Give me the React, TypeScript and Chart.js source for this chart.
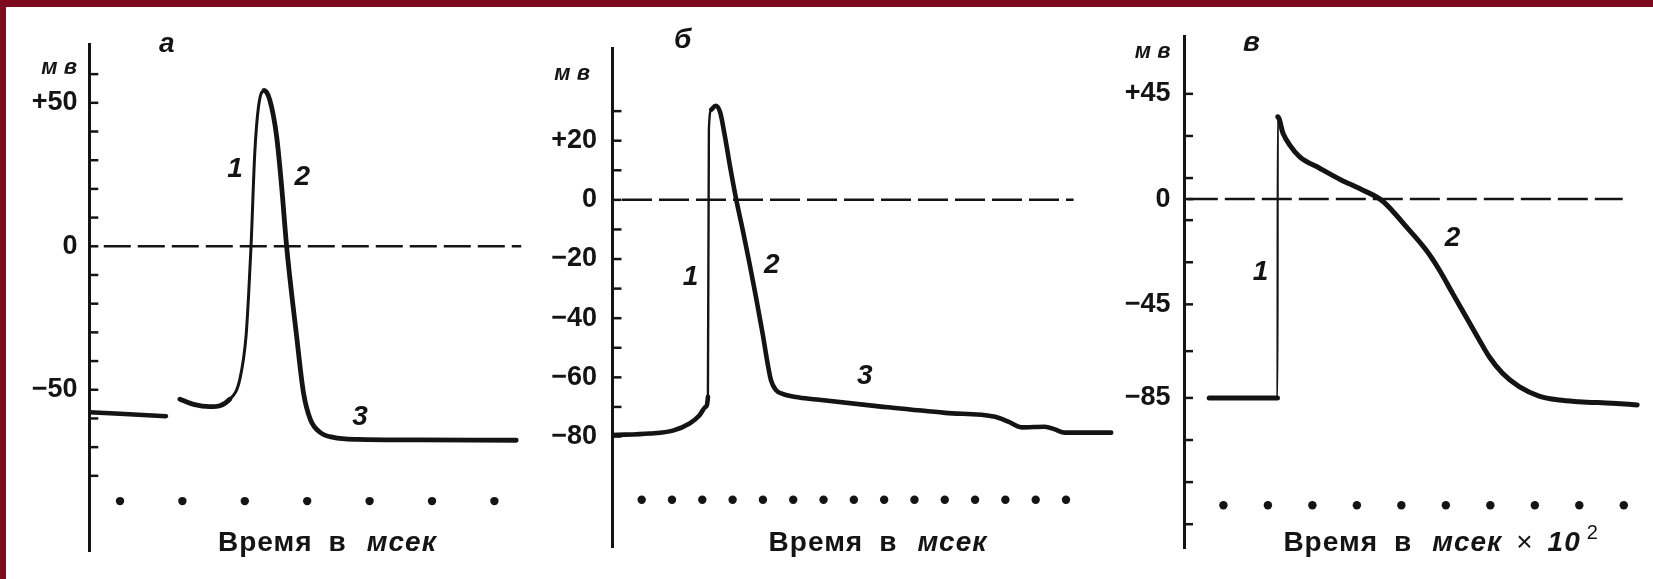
import { useEffect, useRef } from 'react';
import { Chart, registerables } from 'chart.js';

Chart.register(...registerables);

const INK = '#141414';
const FRAME = '#7e0a20';
const FONT = '"Liberation Sans", Arial, sans-serif';

// ---------- а : nerve fibre ----------
const aRestT = [0.508, 1.737];
const aRestMv = [-57.8, -59.2];
const aSpikeT = [1.96, 2.18, 2.44, 2.76, 2.92, 3.02, 3.06, 3.1, 3.16, 3.22, 3.31, 3.4, 3.51, 3.59, 3.67, 3.83, 3.94, 4.05, 4.21, 4.42, 4.8, 5.8, 7.35];
const aSpikeMv = [-53.3, -55.1, -55.9, -53.3, -46.4, -31.3, -17.4, 0, 32.5, 48.7, 54.3, 51, 38.3, 20.9, 0, -31.3, -51, -60.3, -64.9, -66.6, -67.3, -67.5, -67.6];
const aMarkT = [1, 2, 3, 4, 5, 6, 7];
const aTickMv = [60, 50, 40, 30, 20, 10, 0, -10, -20, -30, -40, -50, -60, -70, -80];
const aLabelMv = [50, 0, -50];
const aLabelText = ['+50', '0', '−50'];
const aTagText = ['1', '2', '3'];
const aTagT = [2.843, 3.923, 4.846];
const aTagMv = [26.7, 24.0, -59.6];

// ---------- б : skeletal muscle fibre ----------
const bT = [0.04, 1.27, 2.03, 2.58, 2.91, 3.11, 3.185, 3.217, 3.296, 3.438, 3.592, 3.733, 3.93, 4.118, 4.334, 4.554, 4.775, 4.992, 5.156, 5.267, 5.431, 5.649, 6.197, 6.854, 8.825, 11.016, 12.659, 13.096, 13.533, 14.302, 14.63, 14.959, 16.49];
const bMv = [-79.5, -79, -78, -75.6, -72.8, -70, -66.6, 23.8, 30.5, 31.8, 29.5, 22.2, 10.5, 0.2, -10.2, -21.3, -33.1, -45.3, -55.4, -61, -64.3, -65.6, -66.8, -67.6, -69.8, -72, -73.3, -75, -76.9, -76.7, -77.6, -78.7, -78.7];
const bMarkT = [1, 2, 3, 4, 5, 6, 7, 8, 9, 10, 11, 12, 13, 14, 15];
const bTickMv = [30, 20, 10, 0, -10, -20, -30, -40, -50, -60, -70, -80];
const bLabelMv = [20, 0, -20, -40, -60, -80];
const bLabelText = ['+20', '0', '−20', '−40', '−60', '−80'];
const bTagText = ['1', '2', '3'];
const bTagT = [2.61, 5.294, 8.359];
const bTagMv = [-26.1, -22.2, -59.8];

// ---------- в : cardiac muscle fibre ----------
const vT = [0.68, 2.215, 2.222, 2.341, 2.491, 2.715, 3.164, 3.646, 4.094, 4.583, 5.108, 5.556, 5.854, 6.152, 6.453, 6.751, 6.975, 7.274, 7.648, 8.096, 8.545, 8.993, 9.74, 10.3];
const vMv = [-85, -85, 35.2, 28.1, 23.1, 18.1, 13.2, 8.2, 4.2, -0.9, -11.8, -21.8, -30.3, -40.3, -50.3, -60.2, -67.4, -74.5, -80.2, -84.2, -85.9, -86.6, -87.3, -88.0];
const vMarkT = [1, 2, 3, 4, 5, 6, 7, 8, 9, 10];
const vTickMv = [45, 27, 9, 0, -9, -27, -45, -65, -85, -103, -121, -139];
const vLabelMv = [45, 0, -45, -85];
const vLabelText = ['+45', '0', '−45', '−85'];
const vTagText = ['1', '2'];
const vTagT = [1.836, 6.153];
const vTagMv = [-31.4, -16.8];

type Part = { text: string; font: string; gap: number; rise?: number };

const UPRIGHT = `bold 28px ${FONT}`;
const SLANTED = `italic bold 28px ${FONT}`;
const timeTitle: Part[] = [
  { text: 'Время', font: UPRIGHT, gap: 0 },
  { text: 'в', font: UPRIGHT, gap: 16 },
  { text: 'мсек', font: SLANTED, gap: 20 },
];
const timeTitleX100: Part[] = [
  ...timeTitle,
  { text: '×', font: `28px ${FONT}`, gap: 14 },
  { text: '10', font: SLANTED, gap: 14 },
  { text: '2', font: `20px ${FONT}`, gap: 6, rise: 12 },
];

const zip = (xs: number[], ys: number[]) => xs.map((x, i) => ({ x, y: ys[i] }));

const PANELS = [
  {
    canvas: { left: 6, top: 7, width: 534, height: 572 },
    plot: { left: 89.3, right: 530, top: 44.3, bottom: 552 },
    axisW: 75,
    labelPad: 11.8,
    x: [0.508, 7.5705],
    y: [-106.2, 70.4],
    traces: [
      { t: aRestT, mv: aRestMv, thin: 3, thick: 4.5 },
      { t: aSpikeT, mv: aSpikeMv, thin: 3, thick: 4.8 },
    ],
    marks: aMarkT,
    markLevel: -88.8,
    zero: [0.74, 7.43],
    dash: [27, 7],
    ticks: aTickMv,
    labelMv: aLabelMv,
    labelText: aLabelText,
    tags: { text: aTagText, t: aTagT, mv: aTagMv },
    letter: 'а',
    letterPos: [159, 44],
    unitPos: [77, 68.3],
    title: timeTitle,
    titlePos: [218, 550.5],
  },
  {
    canvas: { left: 540, top: 7, width: 580, height: 572 },
    plot: { left: 612.5, right: 1118, top: 48, bottom: 552 },
    axisW: 65,
    labelPad: 15.5,
    x: [0.037, 16.643],
    y: [-117.45, 51.34],
    traces: [{ t: bT, mv: bMv, thin: 2.4, thick: 4.6 }],
    marks: bMarkT,
    markLevel: -101.4,
    zero: [0.35, 15.25],
    dash: [30, 7],
    ticks: bTickMv,
    labelMv: bLabelMv,
    labelText: bLabelText,
    tags: { text: bTagText, t: bTagT, mv: bTagMv },
    letter: 'б',
    letterPos: [674, 40.6],
    unitPos: [590, 73.9],
    title: timeTitle,
    titlePos: [768.6, 550.5],
  },
  {
    canvas: { left: 1120, top: 7, width: 533, height: 572 },
    plot: { left: 1184, right: 1650, top: 36.9, bottom: 548.4 },
    axisW: 60,
    labelPad: 13.5,
    x: [0.114, 10.562],
    y: [-149.34, 69.35],
    traces: [{ t: vT, mv: vMv, thin: 2.2, thick: 5 }],
    marks: vMarkT,
    markLevel: -130.9,
    zero: [0.2, 9.975],
    dash: [30, 7],
    ticks: vTickMv,
    labelMv: vLabelMv,
    labelText: vLabelText,
    tags: { text: vTagText, t: vTagT, mv: vTagMv },
    letter: 'в',
    letterPos: [1243, 43],
    unitPos: [1170.5, 51.7],
    title: timeTitleX100,
    titlePos: [1283.4, 550.5],
  },
];

type Panel = (typeof PANELS)[number];

function makeChart(canvas: HTMLCanvasElement, p: Panel) {
  const ox = p.canvas.left;
  const oy = p.canvas.top;

  const traceSets = p.traces.map((tr) => ({
    data: zip(tr.t, tr.mv),
    borderColor: INK,
    borderWidth: tr.thick,
    borderCapStyle: 'round',
    borderJoinStyle: 'round',
    pointRadius: 0,
    cubicInterpolationMode: 'monotone',
    segment: {
      // the fast rising phase is traced with a finer line
      borderWidth: (ctx: any) => (ctx.p1.parsed.y - ctx.p0.parsed.y > 5 ? tr.thin : tr.thick),
    },
  }));

  const markSet = {
    data: p.marks.map((t) => ({ x: t, y: p.markLevel })),
    showLine: false,
    pointRadius: 4.2,
    pointBackgroundColor: INK,
    pointBorderWidth: 0,
  };

  const zeroSet = {
    data: [
      { x: p.zero[0], y: 0 },
      { x: p.zero[1], y: 0 },
    ],
    borderColor: INK,
    borderWidth: 2.5,
    borderDash: p.dash,
    pointRadius: 0,
    tension: 0,
  };

  const decor = {
    id: 'decor',
    afterDraw(chart: any) {
      const { ctx, chartArea, scales } = chart;
      const xs = scales.x;
      const ys = scales.y;
      ctx.save();
      // tick marks point into the plot
      ctx.strokeStyle = INK;
      ctx.lineWidth = 2.5;
      for (const t of ys.ticks) {
        const py = ys.getPixelForValue(t.value);
        ctx.beginPath();
        ctx.moveTo(chartArea.left, py);
        ctx.lineTo(chartArea.left + 9, py);
        ctx.stroke();
      }
      ctx.fillStyle = INK;
      // unit above the axis
      ctx.font = `italic bold 22px ${FONT}`;
      ctx.textAlign = 'right';
      ctx.textBaseline = 'middle';
      ctx.fillText('м в', p.unitPos[0] - ox, p.unitPos[1] - oy);
      // panel letter
      ctx.font = `italic bold 28px ${FONT}`;
      ctx.textAlign = 'left';
      ctx.fillText(p.letter, p.letterPos[0] - ox, p.letterPos[1] - oy);
      // phase numbers along the trace
      ctx.font = `italic bold 28px ${FONT}`;
      ctx.textAlign = 'center';
      p.tags.text.forEach((s, i) => {
        ctx.fillText(s, xs.getPixelForValue(p.tags.t[i]), ys.getPixelForValue(p.tags.mv[i]));
      });
      // time axis caption
      ctx.textAlign = 'left';
      ctx.textBaseline = 'alphabetic';
      (ctx as any).letterSpacing = '1px';
      let cx = p.titlePos[0] - ox;
      const base = p.titlePos[1] - oy;
      for (const part of p.title) {
        cx += part.gap;
        ctx.font = part.font;
        ctx.fillText(part.text, cx, base - (part.rise || 0));
        cx += ctx.measureText(part.text).width;
      }
      ctx.restore();
    },
  };

  return new Chart(canvas, {
    type: 'line',
    data: { datasets: [...traceSets, markSet, zeroSet] as any },
    options: {
      animation: false,
      responsive: false,
      maintainAspectRatio: false,
      devicePixelRatio: 1,
      events: [],
      layout: {
        padding: {
          left: p.plot.left - ox - p.axisW,
          right: ox + p.canvas.width - p.plot.right,
          top: p.plot.top - oy,
          bottom: oy + p.canvas.height - p.plot.bottom,
        },
      },
      plugins: { legend: { display: false }, tooltip: { enabled: false } },
      scales: {
        x: { type: 'linear', min: p.x[0], max: p.x[1], display: false },
        y: {
          type: 'linear',
          position: 'left',
          min: p.y[0],
          max: p.y[1],
          bounds: 'data',
          afterBuildTicks: (axis: any) => {
            axis.ticks = p.ticks.map((v) => ({ value: v }));
          },
          afterFit: (axis: any) => {
            axis.width = p.axisW;
          },
          grid: { display: false, drawTicks: false },
          border: { display: true, color: INK, width: 3 },
          ticks: {
            autoSkip: false,
            padding: p.labelPad,
            color: INK,
            font: { family: FONT, size: 27, weight: 'bold' },
            callback: (v: any) => {
              const i = p.labelMv.indexOf(Number(v));
              return i >= 0 ? p.labelText[i] : '';
            },
          },
        },
      },
    } as any,
    plugins: [decor],
  });
}

export default function App() {
  const canvases = useRef<(HTMLCanvasElement | null)[]>([]);

  useEffect(() => {
    const charts = PANELS.map((p, i) => makeChart(canvases.current[i] as HTMLCanvasElement, p));
    return () => charts.forEach((c) => c.destroy());
  }, []);

  return (
    <div style={{ position: 'fixed', left: 0, top: 0, width: 1653, height: 579, background: '#fff', overflow: 'hidden' }}>
      <div style={{ position: 'absolute', left: 0, top: 0, width: 1653, height: 7, background: FRAME }} />
      <div style={{ position: 'absolute', left: 0, top: 0, width: 6, height: 579, background: FRAME }} />
      {PANELS.map((p, i) => (
        <canvas
          key={i}
          ref={(el) => {
            canvases.current[i] = el;
          }}
          width={p.canvas.width}
          height={p.canvas.height}
          style={{
            position: 'absolute',
            left: p.canvas.left,
            top: p.canvas.top,
            width: p.canvas.width,
            height: p.canvas.height,
          }}
        />
      ))}
    </div>
  );
}
